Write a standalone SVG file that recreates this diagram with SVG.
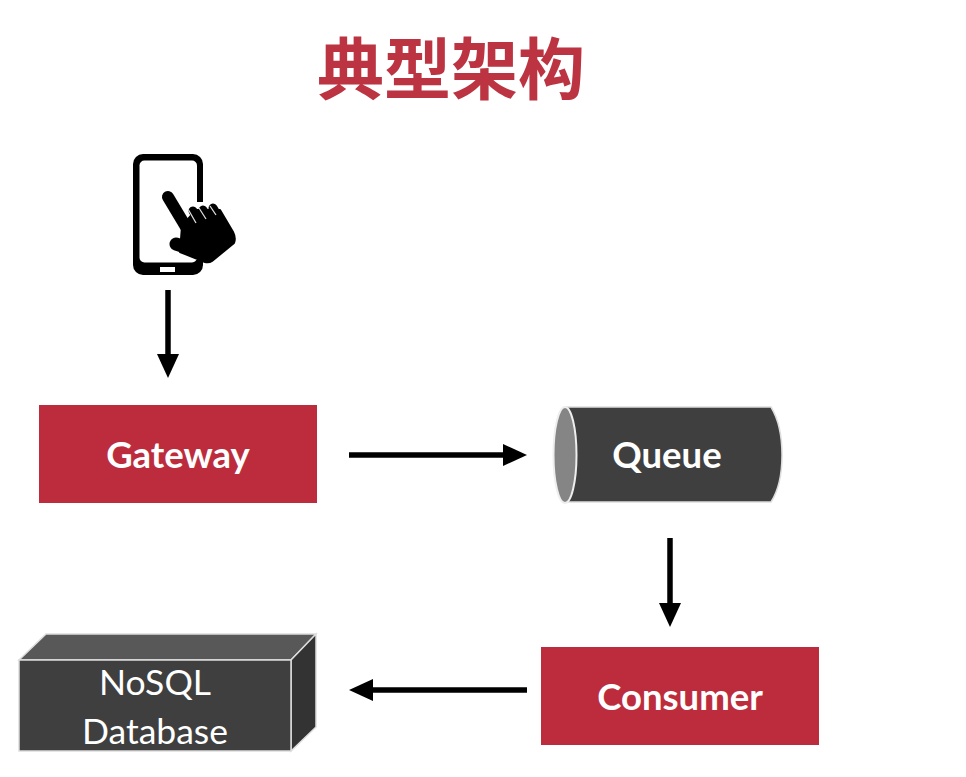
<svg xmlns="http://www.w3.org/2000/svg" width="966" height="777" viewBox="0 0 966 777">
<style>
.lbl{font-family:Lato,"Open Sans",sans-serif;fill:#fff;text-anchor:middle}
.b{font-weight:700;font-size:36.500px}
.r{font-size:35.500px}
.red{fill:#bc2c3d}
.edge{stroke:#000;stroke-width:5.500;fill:none;marker-end:url(#arrow)}
.hand{stroke:#000;stroke-linecap:round;fill:none}
</style>
<defs>
<marker id="arrow" markerUnits="userSpaceOnUse" markerWidth="24" markerHeight="24" refX="4" refY="12" orient="auto"><path d="M0 1L24 12L0 23Z" fill="#000"/></marker>
</defs>
<rect width="966" height="777" fill="#fff"/>
<text id="title" x="451" y="94" font-family="Noto Sans CJK SC,sans-serif" font-weight="700" font-size="67" text-anchor="middle" fill="#bc3342">典型架构</text>
<g id="phone">
<rect x="133" y="154" width="70" height="121" rx="10" fill="#000"/>
<rect x="139.500" y="160.500" width="57.500" height="102" rx="5" fill="#fff"/>
<rect x="196" y="202" width="8" height="58" fill="#fff"/>
<rect x="160" y="267" width="15" height="5" fill="#fff"/>
<path d="M182 226L196 210L220 210L233 232Q236 238 234 243L212 261Q209 263 205 262L180 252Z" fill="#000" stroke="#000" stroke-width="2" stroke-linejoin="round"/>
<path class="hand" stroke-width="12" d="M168 197L189 232"/>
<path class="hand" stroke-width="13" d="M176 244L200 252"/>
<path class="hand" stroke-width="9" d="M193 211L200 223M203 210L209 220M213 208L219 218"/>
<path d="M188 209L196 223M199 208L206 219M210 206L216 215" stroke="#ddd" stroke-width="1.300" fill="none"/>
</g>
<g id="gateway"><rect class="red" x="39" y="405" width="278" height="98"/><text class="lbl b" x="178" y="468">Gateway</text></g>
<g id="queue">
<path d="M566 407H771Q782 425 782 455Q782 485 771 502H566Z" fill="#3f3f3f" stroke="#ddd" stroke-width="1.500"/>
<ellipse cx="565" cy="455" rx="11.500" ry="48" fill="#858585" stroke="#eee" stroke-width="2"/>
<text class="lbl b" x="667" y="468">Queue</text>
</g>
<g id="consumer"><rect class="red" x="541" y="647" width="278" height="98"/><text class="lbl b" x="680" y="710">Consumer</text></g>
<g id="database">
<path d="M19 660L46 634H316L291 660Z" fill="#585858" stroke="#ddd" stroke-width="1.500"/>
<path d="M291 660L316 634V727L291 751Z" fill="#333" stroke="#ddd" stroke-width="1.500"/>
<rect x="19" y="660" width="272" height="91" fill="#3f3f3f" stroke="#ddd" stroke-width="1.500"/>
<text class="lbl r" x="155" y="695">NoSQL</text>
<text class="lbl r" x="155" y="744">Database</text>
</g>
<g id="connectors">
<path class="edge" d="M168 290V358"/>
<path class="edge" d="M349 455H507"/>
<path class="edge" d="M670 538V607"/>
<path class="edge" d="M527 690H369"/>
</g>
</svg>
